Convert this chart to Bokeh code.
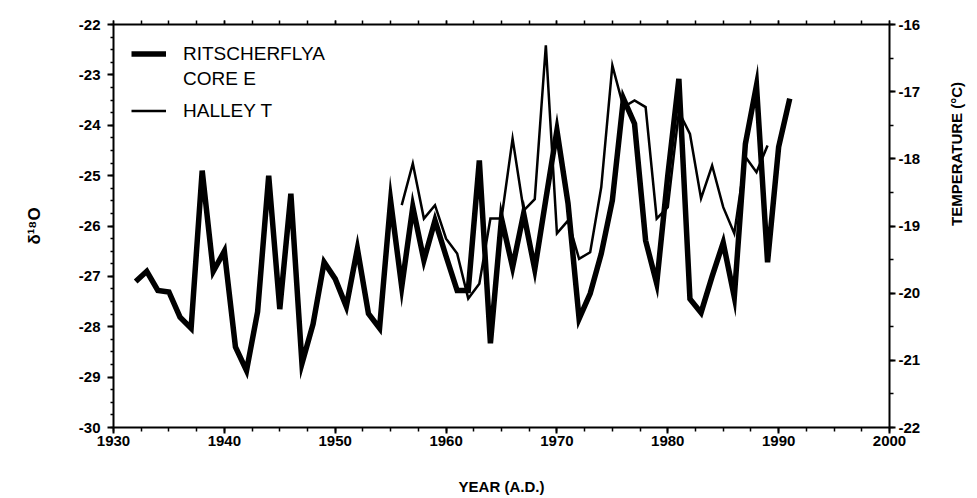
import math
from bokeh.plotting import figure
from bokeh.models import (Range1d, LinearAxis, SingleIntervalTicker, Legend, LegendItem,
                          CustomJSTickFormatter)
from bokeh.embed import file_html
from bokeh.resources import INLINE

# Ritscherflya core E, delta 18O (per mil)
core_years = list(range(1932, 1992))
core_d18o = [-27.1, -26.9, -27.28, -27.31, -27.81, -28.03, -24.9, -26.9, -26.5, -28.4,
             -28.87, -27.7, -25.0, -27.65, -25.36, -28.73, -27.95, -26.72, -27.05, -27.6,
             -26.45, -27.74, -28.03, -25.5, -27.21, -25.62, -26.68, -25.89, -26.6, -27.28,
             -27.28, -24.7, -28.33, -25.85, -26.82, -25.75, -26.86, -25.47, -24.1, -25.55,
             -27.84, -27.34, -26.55, -25.49, -23.47, -23.97, -26.29, -27.14, -25.0, -23.08,
             -27.45, -27.72, -27.0, -26.33, -27.41, -24.37, -23.21, -26.72, -24.43, -23.47]

# Halley temperature (deg C)
halley_years = list(range(1956, 1990))
halley_temp = [-18.69, -18.07, -18.89, -18.69, -19.19, -19.41, -20.08, -19.86, -18.89, -18.89,
               -17.70, -18.77, -18.60, -16.31, -19.11, -18.92, -19.49, -19.39, -18.42, -16.61,
               -17.23, -17.13, -17.23, -18.89, -18.72, -17.3, -17.63, -18.59, -18.10, -18.72,
               -19.11, -17.97, -18.20, -17.80]

FONT = "Liberation Sans"

p = figure(frame_width=776, frame_height=403, output_backend="svg", toolbar_location=None,
           x_range=Range1d(1930, 2000), y_range=Range1d(-30, -22),
           min_border_left=113, min_border_right=81, min_border_top=24, min_border_bottom=70,
           background_fill_color="white", border_fill_color="white")
p.outline_line_color = None
p.grid.visible = False
p.extra_y_ranges = {"temp": Range1d(-22, -16)}

plain = CustomJSTickFormatter(code="return tick.toString()")

def style_axis(ax):
    ax.axis_line_width = 2
    ax.axis_line_color = "black"
    ax.major_tick_line_width = 2
    ax.minor_tick_line_width = 1.5
    ax.major_tick_line_color = "black"
    ax.minor_tick_line_color = "black"
    ax.major_tick_in = 0
    ax.minor_tick_in = 0
    ax.major_label_text_font = FONT
    ax.major_label_text_font_style = "bold"
    ax.major_label_text_font_size = "15px"
    ax.major_label_text_color = "black"
    ax.axis_label_text_font = FONT
    ax.axis_label_text_font_style = "bold"
    ax.axis_label_text_font_size = "15px"
    ax.axis_label_text_color = "black"

# bottom axis
xa = p.xaxis[0]
xa.ticker = SingleIntervalTicker(interval=10, num_minor_ticks=4)
xa.formatter = plain
style_axis(xa)
xa.major_tick_out = 6
xa.minor_tick_out = 4
xa.major_label_standoff = 2
xa.axis_label = "YEAR (A.D.)"
xa.axis_label_standoff = 29

# left axis
ya = p.yaxis[0]
ya.ticker = SingleIntervalTicker(interval=1, num_minor_ticks=4)
ya.formatter = plain
style_axis(ya)
ya.major_tick_out = 6
ya.minor_tick_out = 3
ya.major_label_standoff = 7
ya.axis_label = "δ¹⁸O"
ya.axis_label_text_font_size = "17px"
ya.axis_label_standoff = 32

# top axis (ticks only)
ta = LinearAxis(ticker=SingleIntervalTicker(interval=10, num_minor_ticks=4),
                formatter=CustomJSTickFormatter(code="return ''"))
style_axis(ta)
ta.major_tick_out = 4
ta.minor_tick_out = 4
ta.major_tick_line_width = 1.5
p.add_layout(ta, "above")

# right axis (temperature)
ra = LinearAxis(y_range_name="temp", ticker=SingleIntervalTicker(interval=1, num_minor_ticks=2),
                formatter=plain)
style_axis(ra)
ra.major_tick_out = 6
ra.minor_tick_out = 4
ra.major_label_standoff = 3
ra.axis_label = "TEMPERATURE  (°C)"
ra.axis_label_standoff = 33
ra.axis_label_text_align = "center"
if "axis_label_orientation" in ra.properties():
    ra.axis_label_orientation = math.pi / 2
p.add_layout(ra, "right")

r_core = p.line(core_years, core_d18o, line_color="black", line_width=5.5, line_join="miter")
r_halley = p.line(halley_years, halley_temp, y_range_name="temp", line_color="black",
                  line_width=2.5, line_join="miter")
r_blank = p.line(x=[], y=[], line_alpha=0)

def make_legend(items, h, spacing):
    lg = Legend(items=items, location="top_left")
    lg.border_line_color = None
    lg.background_fill_alpha = 0
    lg.label_text_font = FONT
    lg.label_text_font_size = "19px"
    lg.label_text_color = "black"
    lg.glyph_width = 35
    lg.glyph_height = h
    lg.label_height = h
    lg.label_standoff = 17
    lg.margin = 18
    lg.padding = 12
    lg.spacing = spacing
    return lg

legend_a = make_legend([LegendItem(label="RITSCHERFLYA", renderers=[r_core]),
                        LegendItem(label="CORE E", renderers=[r_blank])], 23, 2)
legend_b = make_legend([LegendItem(label="HALLEY T", renderers=[r_halley])], 137, 0)
p.add_layout(legend_a, "center")
p.add_layout(legend_b, "center")

open("out.html", "w").write(file_html(p, INLINE))
